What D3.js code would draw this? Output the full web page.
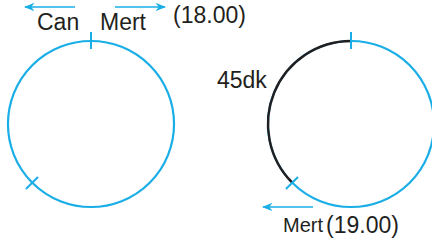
<!DOCTYPE html>
<html>
<head>
<meta charset="utf-8">
<script src="https://cdn.jsdelivr.net/npm/d3@7"></script>
<style>
  body { margin: 0; background: #fff; }
  text { font-family: "Liberation Sans", Arial, sans-serif; fill: #231f20; }
</style>
</head>
<body>
<div id="chart"></div>
<script>
// track data: two circular tracks, marks given in degrees clockwise from top
svgWidth = 432
svgHeight = 242

trackNames = ['start', 'end']
markAngles = [0, 225]          // start point and meeting point on each track
blackArc = [225, 360]          // 45dk section drawn in black on the 2nd track
topLabels = ['Can', 'Mert', '(18.00)']
arcLabel = '45dk'
bottomLabels = ['Mert', '(19.00)']

blue = '#1aaee6'
dark = '#231f20'

radius = 83

svg = d3.select('#chart')
        .append('svg')
        .attr('width', svgWidth)
        .attr('height', svgHeight)

xScale = d3.scalePoint()
           .domain(trackNames)
           .range([91, 351])

angle = d3.scaleLinear().domain([0, 360]).range([0, 2 * Math.PI])

cy = 124

defs = svg.append('defs')
defs.append('marker')
    .attr('id', 'head')
    .attr('viewBox', '0 0 10 10')
    .attr('refX', 9)
    .attr('refY', 5)
    .attr('markerWidth', 7)
    .attr('markerHeight', 7)
    .attr('orient', 'auto')
    .append('path')
    .attr('d', 'M0,1 L10,5 L0,9 L3,5 Z')
    .attr('fill', blue)

groups = svg.selectAll('g.track')
            .data(trackNames)
            .enter()
            .append('g')
            .attr('class', 'track')
            .attr('transform', d => `translate(${xScale(d)},${cy})`)

ring = d3.arc().innerRadius(radius).outerRadius(radius)

groups.append('path')
      .attr('d', ring({startAngle: 0, endAngle: 2 * Math.PI}))
      .attr('fill', 'none')
      .attr('stroke', blue)
      .attr('stroke-width', 2.2)

// black section on second track
groups.filter(d => d === 'end')
      .append('path')
      .attr('d', ring({startAngle: angle(blackArc[0]), endAngle: angle(blackArc[1])}))
      .attr('fill', 'none')
      .attr('stroke', dark)
      .attr('stroke-width', 2.4)

// ticks across the ring
groups.selectAll('line.mark')
      .data(markAngles)
      .enter()
      .append('line')
      .attr('class', 'mark')
      .attr('x1', a => Math.sin(angle(a)) * (radius - 8))
      .attr('y1', a => -Math.cos(angle(a)) * (radius - 8))
      .attr('x2', a => Math.sin(angle(a)) * (radius + 9))
      .attr('y2', a => -Math.cos(angle(a)) * (radius + 9))
      .attr('stroke', blue)
      .attr('stroke-width', 2)

cxL = xScale('start')
cxR = xScale('end')

// arrows
arrows = [
  {x1: cxL - 16, x2: cxL - 66, y: 7},
  {x1: cxL + 24, x2: cxL + 74, y: 7},
  {x1: cxR - 38, x2: cxR - 88, y: 207}
]
svg.selectAll('line.arrow')
   .data(arrows)
   .enter()
   .append('line')
   .attr('class', 'arrow')
   .attr('x1', d => d.x1)
   .attr('x2', d => d.x2)
   .attr('y1', d => d.y)
   .attr('y2', d => d.y)
   .attr('stroke', blue)
   .attr('stroke-width', 1.5)
   .attr('marker-end', 'url(#head)')

svg.append('text').attr('x', cxL - 54).attr('y', 30).attr('font-size', 23).text(topLabels[0])
svg.append('text').attr('x', cxL + 9).attr('y', 30).attr('font-size', 23).text(topLabels[1])
svg.append('text').attr('x', cxL + 82).attr('y', 23).attr('font-size', 23).text(topLabels[2])

svg.append('text').attr('x', cxR - 134).attr('y', 88).attr('font-size', 23).text(arcLabel)

svg.append('text').attr('x', cxR - 68).attr('y', 232).attr('font-size', 20).text(bottomLabels[0])
svg.append('text').attr('x', cxR - 25).attr('y', 233).attr('font-size', 23).text(bottomLabels[1])
</script>
</body>
</html>
